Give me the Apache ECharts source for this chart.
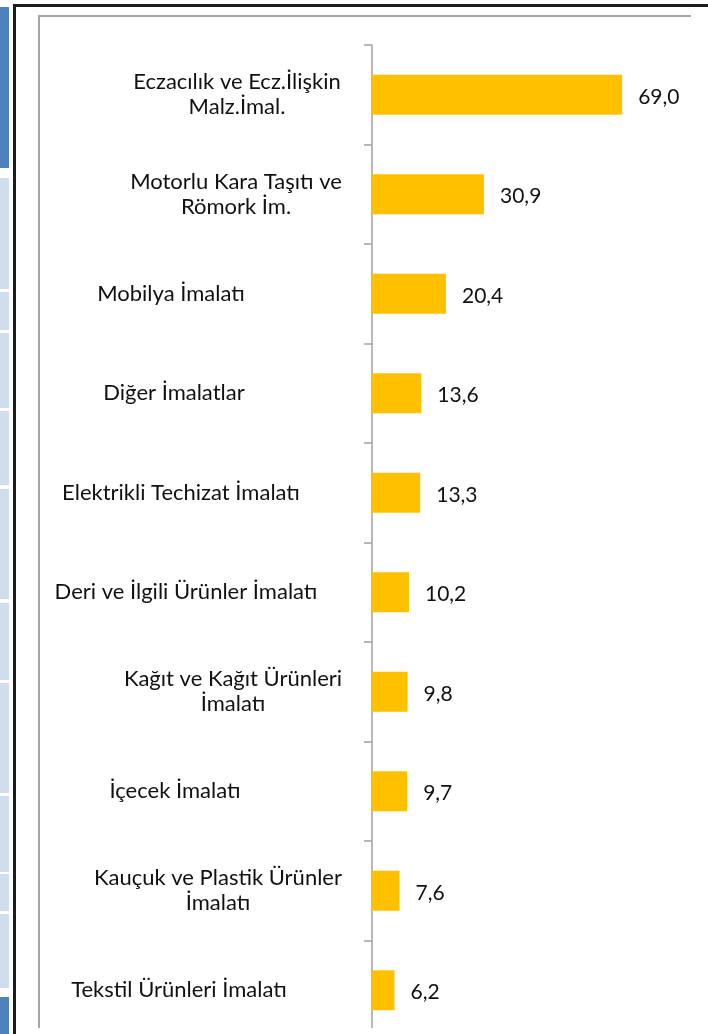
<!DOCTYPE html>
<html>
<head>
<meta charset="utf-8">
<script src="https://cdn.jsdelivr.net/npm/echarts@6/dist/echarts.min.js"></script>
<style>
  html, body { margin: 0; padding: 0; background: #ffffff; }
  #wrap { position: relative; width: 708px; height: 1034px; overflow: hidden; background: #fff; }
  .blk { position: absolute; left: 0; width: 9px; }
  #clip { position: absolute; left: 0; top: 0; width: 708px; height: 1028px; overflow: hidden; }
  #chart { position: absolute; left: 0; top: 0; width: 708px; height: 1045px; }
</style>
</head>
<body>
<div id="wrap">
  <div class="blk" style="top:7px;height:161px;background:#4F81BD"></div>
  <div class="blk" style="top:178px;height:111px;background:#D0DDEF"></div>
  <div class="blk" style="top:292px;height:38px;background:#D0DDEF"></div>
  <div class="blk" style="top:333px;height:75px;background:#D0DDEF"></div>
  <div class="blk" style="top:411px;height:74px;background:#D0DDEF"></div>
  <div class="blk" style="top:489px;height:110px;background:#D0DDEF"></div>
  <div class="blk" style="top:603px;height:77px;background:#D0DDEF"></div>
  <div class="blk" style="top:683px;height:110px;background:#D0DDEF"></div>
  <div class="blk" style="top:796px;height:76px;background:#D0DDEF"></div>
  <div class="blk" style="top:874px;height:37px;background:#D0DDEF"></div>
  <div class="blk" style="top:914px;height:74px;background:#D0DDEF"></div>
  <div class="blk" style="top:997px;height:37px;background:#4F81BD"></div>
  <div style="position:absolute;left:13px;top:4px;width:3px;height:1030px;background:#1c1c1c"></div>
  <div style="position:absolute;left:13px;top:4px;width:695px;height:3px;background:#1c1c1c"></div>
  <div style="position:absolute;left:38px;top:15px;width:2px;height:1013px;background:#A6A6A6"></div>
  <div style="position:absolute;left:38px;top:15px;width:653px;height:2px;background:#A6A6A6"></div>
  <div id="clip"><div id="chart"></div></div>
</div>
<script>
// Data
var categories = [
  'Eczacılık ve Ecz.İlişkin\nMalz.İmal.',
  'Motorlu Kara Taşıtı ve\nRömork İm.',
  'Mobilya İmalatı',
  'Diğer İmalatlar',
  'Elektrikli Techizat İmalatı',
  'Deri ve İlgili Ürünler İmalatı',
  'Kağıt ve Kağıt Ürünleri\nİmalatı',
  'İçecek İmalatı',
  'Kauçuk ve Plastik Ürünler\nİmalatı',
  'Tekstil Ürünleri İmalatı'
];
var values = [69.0, 30.9, 20.4, 13.6, 13.3, 10.2, 9.8, 9.7, 7.6, 6.2];

// Layout: horizontal shift of each category label's centre (px) from the common anchor
var labelShift = [37, 36, -29, -26, -19, -14, 33, -25, 18, -21];

var FONT = 'Lato';
var rich = {};
labelShift.forEach(function (s, i) {
  rich['l' + i] = {
    fontFamily: FONT, fontSize: 22, color: '#111111', lineHeight: 25, align: 'center',
    padding: s >= 0 ? [0, 0, 0, 2 * s] : [0, -2 * s, 0, 0]
  };
});

var chart = echarts.init(document.getElementById('chart'), null, { renderer: 'canvas' });
chart.setOption({
  animation: false,
  grid: { left: 372, top: 45, width: 290, height: 995, containLabel: false },
  xAxis: { type: 'value', min: 0, max: 80, show: false },
  yAxis: {
    type: 'category',
    inverse: true,
    data: categories,
    axisLine: { show: true, lineStyle: { color: '#A0A0A0', width: 1.5 } },
    axisTick: { show: true, length: 8, lineStyle: { color: '#A0A0A0', width: 1.5 } },
    axisLabel: {
      align: 'center',
      margin: 172,
      formatter: function (v, i) {
        return v.split('\n').map(function (line) { return '{l' + i + '|' + line + '}'; }).join('\n');
      },
      rich: rich
    },
    splitLine: { show: false }
  },
  series: [{
    type: 'bar',
    data: values,
    barWidth: 40,
    itemStyle: { color: '#FFC000' },
    label: {
      show: true,
      position: 'right',
      distance: 16,
      fontFamily: FONT,
      fontSize: 21,
      color: '#111111',
      offset: [0, 2],
      formatter: function (p) { return p.value.toFixed(1).replace('.', ','); }
    }
  }]
});
</script>
</body>
</html>
